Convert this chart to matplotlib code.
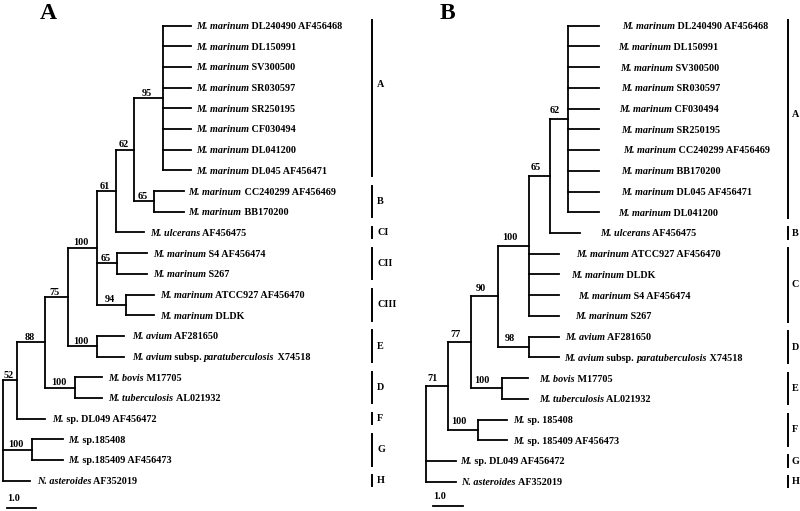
import matplotlib
matplotlib.use('Agg')
import matplotlib.pyplot as plt

plt.rcParams['font.family'] = ['Liberation Serif', 'DejaVu Serif']
plt.rcParams['font.weight'] = 'bold'

# leaf names, *...* marks the italic part
names_a = ['*M. marinum* DL240490 AF456468', '*M. marinum* DL150991', '*M. marinum* SV300500',
           '*M. marinum* SR030597', '*M. marinum* SR250195', '*M. marinum* CF030494',
           '*M. marinum* DL041200', '*M. marinum* DL045 AF456471', '*M. marinum* CC240299 AF456469',
           '*M. marinum* BB170200', '*M. ulcerans* AF456475', '*M. marinum* S4 AF456474',
           '*M. marinum* S267', '*M. marinum* ATCC927 AF456470', '*M. marinum* DLDK',
           '*M. avium* AF281650', '*M. avium* subsp. *paratuberculosis* X74518',
           '*M. bovis* M17705', '*M. tuberculosis* AL021932', '*M.* sp. DL049 AF456472',
           '*M.* sp.185408', '*M.* sp.185409 AF456473', '*N. asteroides* AF352019']

names_b = ['*M. marinum* DL240490 AF456468', '*M. marinum* DL150991', '*M. marinum* SV300500',
           '*M. marinum* SR030597', '*M. marinum* CF030494', '*M. marinum* SR250195',
           '*M. marinum* CC240299 AF456469', '*M. marinum* BB170200', '*M. marinum* DL045 AF456471',
           '*M. marinum* DL041200', '*M. ulcerans* AF456475', '*M. marinum* ATCC927 AF456470',
           '*M. marinum* DLDK', '*M. marinum* S4 AF456474', '*M. marinum* S267',
           '*M. avium* AF281650', '*M. avium* subsp. *paratuberculosis* X74518',
           '*M. bovis* M17705', '*M. tuberculosis* AL021932', '*M.* sp. 185408',
           '*M.* sp. 185409 AF456473', '*M.* sp. DL049 AF456472', '*N. asteroides* AF352019']

groups_a = [('A', 0, 7), ('B', 8, 9), ('CI', 10, 10), ('CII', 11, 12), ('CIII', 13, 14),
            ('E', 15, 16), ('D', 17, 18), ('F', 19, 19), ('G', 20, 21), ('H', 22, 22)]
groups_b = [('A', 0, 9), ('B', 10, 10), ('C', 11, 14), ('D', 15, 16), ('E', 17, 18),
            ('F', 19, 20), ('G', 21, 21), ('H', 22, 22)]


def leaf(i, length):
    return {'leaf': i, 'length': length}


def clade(length, support, *children):
    return {'length': length, 'support': support, 'children': list(children)}


# branch lengths in scale-bar units
tree_a = clade(0, None,
    clade(0.49, '52',
        clade(0.98, '88',
            clade(0.80, '75',
                clade(1.05, '100',
                    clade(0.65, '61',
                        clade(0.65, '62',
                            clade(1.02, '95', *[leaf(i, 0.99) for i in range(8)]),
                            clade(0.71, '65', leaf(8, 1.04), leaf(9, 1.04))),
                        leaf(10, 1.01)),
                    clade(0.69, '65', leaf(11, 1.06), leaf(12, 1.06)),
                    clade(1.01, '94', leaf(13, 1.0), leaf(14, 1.0))),
                clade(1.05, '100', leaf(15, 0.94), leaf(16, 0.94))),
            clade(1.06, '100', leaf(17, 0.94), leaf(18, 0.94))),
        leaf(19, 1.0)),
    clade(1.02, '100', leaf(20, 1.10), leaf(21, 1.10)),
    leaf(22, 0.94))

tree_b = clade(0, None,
    clade(0.72, '71',
        clade(0.78, '77',
            clade(0.91, '90',
                clade(1.03, '100',
                    clade(0.69, '65',
                        clade(0.61, '62', *[leaf(i, 1.02) for i in range(10)]),
                        leaf(10, 1.0)),
                    leaf(11, 1.0), leaf(12, 1.0), leaf(13, 1.0), leaf(14, 1.0)),
                clade(1.03, '98', leaf(15, 1.0), leaf(16, 1.0))),
            clade(1.02, '100', leaf(17, 0.89), leaf(18, 0.89))),
        clade(1.02, '100', leaf(19, 0.97), leaf(20, 0.97))),
    leaf(21, 1.0),
    leaf(22, 1.0))

FS = 7.3
LW = 1.3

# label gaps (px) from tip to text
gaps_a = [5] * 10 + [6, 6, 6, 6, 6, 8, 8, 7, 7, 7, 5, 5, 7]
gaps_b = [23, 19, 21, 22, 20, 22, 24, 22, 22, 19, 20, 17, 12, 19, 16, 6, 5, 11, 11, 6, 6, 4, 5]


def layout(node, x0, segs, tips, supports):
    x = x0 + node['length']
    if 'leaf' in node:
        y = node['leaf']
        tips.append((x, y, node['leaf']))
    else:
        ys = [layout(c, x, segs, tips, supports) for c in node['children']]
        y = (ys[0] + ys[-1]) / 2
        segs.append(([x, x], [ys[0], ys[-1]]))
        if node['support']:
            supports.append(((x0 + x) / 2, y, node['support']))
    if node['length'] > 0:
        segs.append(([x0, x], [y, y]))
    return y


def draw_label(ax, x, y, name, gap):
    prev = None
    for k, part in enumerate(name.split('*')):
        if not part:
            continue
        style = 'italic' if k % 2 else 'normal'
        if prev is None:
            prev = ax.annotate(part, xy=(x, y), xytext=(gap * 0.72, -2.45),
                               textcoords='offset points', ha='left', va='baseline',
                               fontsize=FS, fontstyle=style)
        else:
            prev = ax.annotate(part, xy=(1, 0), xycoords=prev, ha='left', va='bottom',
                               fontsize=FS, fontstyle=style)


def draw_tree(ax, tree, names, gaps, groups, sup_dx, sup_dy, bar_x, lab_x, grp_dy, scale_x, scale_y):
    segs, tips, supports = [], [], []
    layout(tree, 0.0, segs, tips, supports)
    for xs, ys in segs:
        ax.plot(xs, ys, color='black', lw=LW, solid_capstyle='projecting')
    for x, y, i in tips:
        draw_label(ax, x, y, names[i], gaps[i])
    for x, y, s in supports:
        ax.annotate(s, xy=(x, y), xytext=(sup_dx, sup_dy), textcoords='offset points',
                    ha='center', va='baseline', fontsize=FS)
    tr = ax.get_yaxis_transform()
    for k, (g, first, last) in enumerate(groups):
        ax.plot([bar_x, bar_x], [first - 0.27, last + 0.27], color='black', lw=1.4,
                transform=tr, clip_on=False)
        ax.text(lab_x, (first + last) / 2 + grp_dy[k], g, transform=tr, ha='left',
                va='center', fontsize=FS)
    # scale bar
    ax.plot([scale_x, scale_x + 1.0], [scale_y, scale_y], color='black', lw=LW)
    ax.text(scale_x, scale_y - 0.46, '1.0', ha='left', va='center', fontsize=FS)
    ax.axis('off')


fig = plt.figure(figsize=(8, 5.11), dpi=100)

ax_a = fig.add_axes([0, 0, 0.5, 1])
ax_a.set_xlim(-3.3 / 28.3, 396.7 / 28.3)
ax_a.set_ylim(23.47, -1.243)
draw_tree(ax_a, tree_a, names_a, gaps_a, groups_a, -1.1, 1.8, 0.929, 0.9425,
          [-0.65] + [0] * 9, 0.14, 23.31)

ax_b = fig.add_axes([0.5, 0, 0.5, 1])
ax_b.set_xlim(-26 / 30, 374 / 30)
ax_b.set_ylim(23.41, -1.24)
draw_tree(ax_b, tree_b, names_b, gaps_b, groups_b, -2.9, 4.0, 0.969, 0.979,
          [-0.2] + [0] * 7, 0.24, 23.17)

fig.text(48.3 / 800, 1 - 13.3 / 511, 'A', ha='center', va='center', fontsize=17)
fig.text(447.5 / 800, 1 - 13.3 / 511, 'B', ha='center', va='center', fontsize=17)

fig.savefig('out.png', dpi=100)
